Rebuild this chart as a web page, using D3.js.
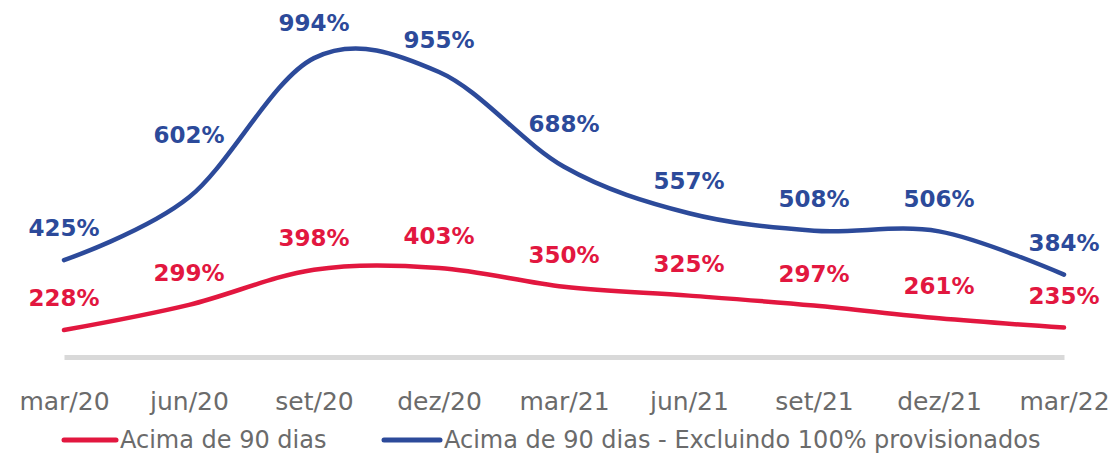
<!DOCTYPE html>
<html>
<head>
<meta charset="utf-8">
<script src="https://cdn.jsdelivr.net/npm/d3@7"></script>
<style>
  body { margin: 0; background: #fff; }
  svg { display: block; }
</style>
</head>
<body>
<div class="plot-container"></div>
<script>
const categories = ["mar/20", "jun/20", "set/20", "dez/20", "mar/21", "jun/21", "set/21", "dez/21", "mar/22"];
const acima90 = [228, 299, 398, 403, 350, 325, 297, 261, 235];
const excluindo100 = [425, 602, 994, 955, 688, 557, 508, 506, 384];
const seriesNames = ["Acima de 90 dias", "Acima de 90 dias - Excluindo 100% provisionados"];

const RED = "#e2173f";
const BLUE = "#2c4a9a";
const GRID = "#d9d9d9";
const TEXT_GRAY = "#6b6b6b";

const width = 1109, height = 453;

const svg = d3.select("div.plot-container").append("svg")
  .attr("width", width)
  .attr("height", height)
  .style("font-family", "'DejaVu Sans', sans-serif");

const x = d3.scalePoint().domain(categories).range([64, 1064]);
const y = d3.scaleLinear().domain([0, 1000]).range([411, 56]);

// axis, domain line doubles as the grey baseline
const axis = svg.append("g")
  .attr("transform", "translate(0,357)")
  .call(d3.axisBottom(x).tickSize(0).tickSizeOuter(0));
axis.select(".domain")
  .attr("stroke", GRID)
  .attr("stroke-width", 5);
axis.selectAll(".tick text")
  .attr("y", 53)
  .attr("dy", 0)
  .attr("fill", TEXT_GRAY)
  .style("font-size", "25px")
  .style("font-family", "'DejaVu Sans', sans-serif");

const line = d3.line()
  .x((d, i) => x(categories[i]))
  .y(d => y(d))
  .curve(d3.curveCatmullRom.alpha(0));

const series = [
  { values: acima90, color: RED, nudge: {} },
  { values: excluindo100, color: BLUE, nudge: { 1: 30, 2: 3, 4: 11 } }
];

series.forEach(s => {
  svg.append("path")
    .datum(s.values)
    .attr("fill", "none")
    .attr("stroke", s.color)
    .attr("stroke-width", 4.5)
    .attr("stroke-linecap", "round")
    .attr("d", line);

  svg.append("g")
    .selectAll("text")
    .data(s.values)
    .enter()
    .append("text")
    .attr("x", (d, i) => x(categories[i]))
    .attr("y", (d, i) => y(d) - 24 - (s.nudge[i] || 0))
    .attr("text-anchor", "middle")
    .attr("fill", s.color)
    .style("font-size", "23px")
    .style("font-weight", "bold")
    .text(d => d + "%");
});

// legend
const legendItems = [
  { name: seriesNames[0], color: RED, x0: 64, x1: 116 },
  { name: seriesNames[1], color: BLUE, x0: 384, x1: 440 }
];
const legend = svg.append("g");
legendItems.forEach(item => {
  legend.append("line")
    .attr("x1", item.x0).attr("x2", item.x1)
    .attr("y1", 440).attr("y2", 440)
    .attr("stroke", item.color)
    .attr("stroke-width", 5)
    .attr("stroke-linecap", "round");
  legend.append("text")
    .attr("x", item.x1 + 4)
    .attr("y", 448)
    .attr("fill", TEXT_GRAY)
    .style("font-size", "24px")
    .text(item.name);
});
</script>
</body>
</html>
